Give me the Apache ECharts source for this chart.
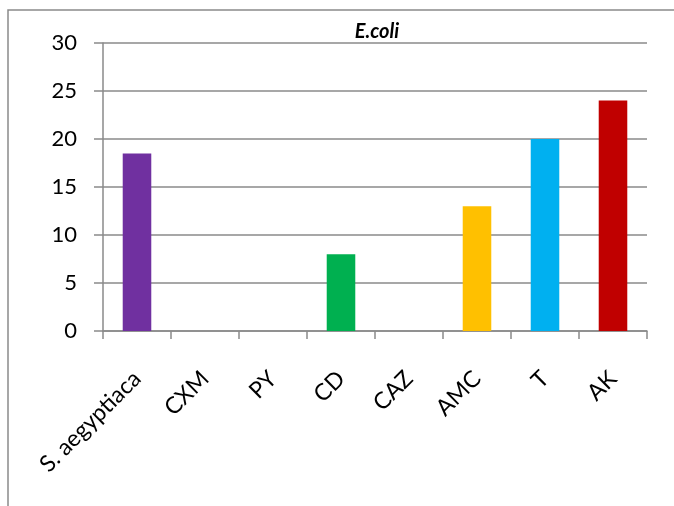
<!DOCTYPE html>
<html><head><meta charset="utf-8">
<script src="https://cdn.jsdelivr.net/npm/echarts@6/dist/echarts.min.js"></script>
<style>html,body{margin:0;padding:0;background:#fff}#c{width:674px;height:506px}</style>
</head><body><div id="c"></div>
<script>
var categories = ['S. aegyptiaca','CXM','PY','CD','CAZ','AMC','T','AK'];
var values = [18.5, 0, 0, 8, 0, 13, 20, 24];
var colors = ['#7030A0','#7030A0','#7030A0','#00B050','#00B050','#FFC000','#00B0F0','#C00000'];
var yTicks = [0,5,10,15,20,25,30];
var font = 'Lato, "Noto Sans", sans-serif';
var chart = echarts.init(document.getElementById('c'));
chart.setOption({
  animation:false,
  backgroundColor:'#fff',
  title:{text:'E.coli', left:372, top:17, textAlign:'center',
    textStyle:{fontFamily:font, fontSize:20, fontWeight:'bold', fontStyle:'italic', color:'#000'}},
  graphic:[{type:'rect', shape:{x:8,y:10,width:720,height:620}, style:{fill:'none', stroke:'#8a8a8a', lineWidth:1.5}, silent:true}],
  grid:{left:103, right:27, top:43, bottom:175},
  xAxis:{type:'category', data:categories,
    axisLine:{lineStyle:{color:'#8a8a8a', width:1.5}},
    axisTick:{show:true, length:8, alignWithLabel:false, lineStyle:{color:'#8a8a8a', width:1.5}},
    axisLabel:{rotate:45, interval:0, margin:44, fontFamily:font, fontSize:23, color:'#000'}},
  yAxis:{type:'value', min:0, max:30, interval:5,
    axisLine:{show:true, lineStyle:{color:'#8a8a8a', width:1.5}},
    axisTick:{show:true, length:9, lineStyle:{color:'#8a8a8a', width:1.5}},
    splitLine:{lineStyle:{color:'#8a8a8a', width:1.5}},
    axisLabel:{margin:26, fontFamily:font, fontSize:22, color:'#000',
      formatter:function(v){return yTicks.indexOf(v)>=0?String(v):'';}}},
  series:[{type:'bar', barWidth:'42%',
    data: values.map(function(v,i){return {value:v, itemStyle:{color:colors[i]}};})}]
});
</script></body></html>
